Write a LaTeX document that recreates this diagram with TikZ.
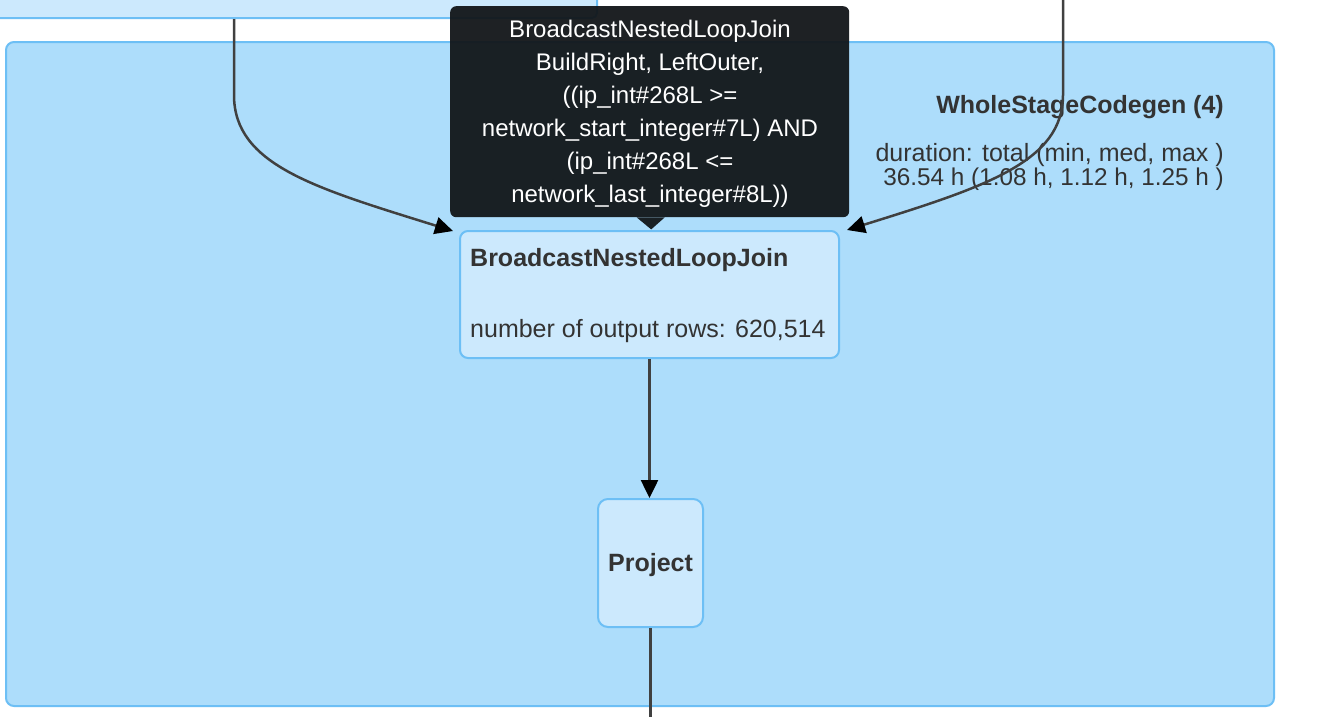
\documentclass[tikz,border=0pt]{standalone}
\usepackage{fontspec}
\setmainfont{Liberation Sans}
\usetikzlibrary{arrows.meta}
\definecolor{clusterfill}{HTML}{ADDDFB}
\definecolor{nodefill}{HTML}{CCE9FD}
\definecolor{bordercol}{HTML}{6DBFF5}
\definecolor{edgecol}{HTML}{404040}
\definecolor{tipcol}{HTML}{121619}
\definecolor{txtcol}{HTML}{333333}
\begin{document}
\begin{tikzpicture}[x=1pt,y=-1pt,
  box/.style={draw=bordercol, fill=nodefill, line width=2pt, rounded corners=8pt, inner sep=0pt},
  cluster/.style={draw=bordercol, fill=clusterfill, line width=2pt, rounded corners=8pt, inner sep=0pt},
  link/.style={draw=edgecol, line width=2.5pt},
  arrowlink/.style={link, -{Triangle[length=18pt,width=17pt,color=black]}},
  txt/.style={font=\fontsize{25}{30}\selectfont, text=txtcol, inner sep=0pt},
  ttxt/.style={font=\fontsize{24}{30}\selectfont, text=white, inner sep=0pt, anchor=base},
  tipbox/.style={fill=tipcol, fill opacity=0.95, rounded corners=6pt, inner sep=0pt}
]
\useasboundingbox (0,0) rectangle (1336,716);
\clip (0,0) rectangle (1336,716);
\fill[white] (0,0) rectangle (1336,716);

% previous node (cut off at top)
\node[box, anchor=south east, minimum width=650pt, minimum height=70pt, rounded corners=5pt] (prev) at (598,19) {};

% cluster
\node[cluster, anchor=north west, minimum width=1268pt, minimum height=664pt] (wsc) at (5,41) {};
\node[txt, anchor=base east, font=\fontsize{25}{30}\selectfont\bfseries] (wsct) at (1224,113) {WholeStageCodegen (4)};
\node[txt, anchor=base east] (wscd1) at (1224,161) {duration: total (min, med, max )};
\node[txt, anchor=base east, font=\fontsize{24.3}{30}\selectfont] (wscd2) at (1224,185) {36.54 h (1.08 h, 1.12 h, 1.25 h )};

% nodes
\node[box, anchor=north west, minimum width=379pt, minimum height=127pt] (bnlj) at (459,230) {};
\node[txt, anchor=base west, font=\fontsize{25}{30}\selectfont\bfseries] (bnljt) at (470,266) {BroadcastNestedLoopJoin};
\node[txt, anchor=base west] (bnljm) at (470,337) {number of output rows: 620,514};

\node[box, anchor=north west, minimum width=105pt, minimum height=128pt, rounded corners=10pt] (proj) at (597,498) {};
\node[txt, font=\fontsize{25}{30}\selectfont\bfseries] (projt) at ([yshift=-2pt]proj.center) {Project};

% connectors
\coordinate (pl) at (234,19);
\coordinate (pr) at (1063,-5);
\coordinate (bot) at (649,725);
\draw[arrowlink] (pl) -- (234,95) .. controls (234,165) and (315,188) .. ([shift={(-6,1)}]bnlj.north west);
\draw[arrowlink] (pr) -- (1063,95) .. controls (1063,162) and (985,187) .. ([shift={(7,0)}]bnlj.north east);
\draw[arrowlink] (bnlj.south) -- (bnlj.south |- proj.north);
\draw[link] (proj.south) -- (proj.south |- bot);

% tooltip
\node[tipbox, anchor=north west, minimum width=399pt, minimum height=211pt] (tip) at (450,6) {};
\fill[tipcol, fill opacity=0.95] ([xshift=-13pt]tip.south) -- ([xshift=1.5pt,yshift=-12pt]tip.south) -- ([xshift=15pt]tip.south) -- cycle;
\node[ttxt] (tt1) at (650,37) {BroadcastNestedLoopJoin};
\node[ttxt] (tt2) at (650,70) {BuildRight, LeftOuter,};
\node[ttxt] (tt3) at (650,103) {((ip\_int\#268L >=};
\node[ttxt] (tt4) at (650,136) {network\_start\_integer\#7L) AND};
\node[ttxt] (tt5) at (650,169) {(ip\_int\#268L <=};
\node[ttxt] (tt6) at (650,202) {network\_last\_integer\#8L))};
\end{tikzpicture}
\end{document}
